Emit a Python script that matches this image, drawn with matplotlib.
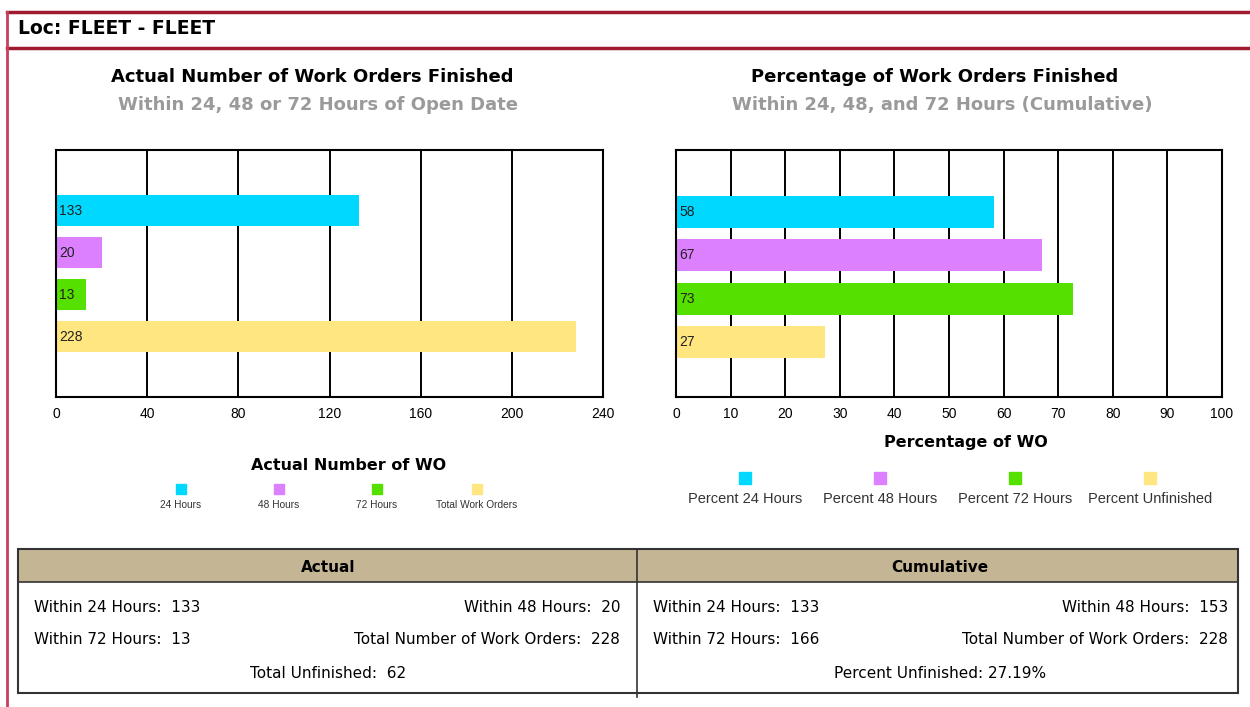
import matplotlib
matplotlib.use("Agg")
import matplotlib.pyplot as plt
from matplotlib.patches import Rectangle

# Data
location = "Loc: FLEET - FLEET"
actual_labels = ["24 Hours", "48 Hours", "72 Hours", "Total Work Orders"]
actual_values = [133, 20, 13, 228]
pct_labels = ["Percent 24 Hours", "Percent 48 Hours", "Percent 72 Hours", "Percent Unfinished"]
pct_values = [58.3, 67.1, 72.8, 27.2]
cumulative_values = [133, 153, 166, 228]
total_unfinished = 62
pct_unfinished = 27.19
colors = ["#00d8ff", "#dd80ff", "#55e000", "#ffe680"]

W, H = 1250, 707
fig = plt.figure(figsize=(W / 100, H / 100), dpi=100)
fig.patch.set_facecolor("white")


def rect(x0, y0, x1, y1):
    # pixel box -> figure fraction [left, bottom, width, height]
    return [x0 / W, 1 - y1 / H, (x1 - x0) / W, (y1 - y0) / H]


# background layer in pixel coordinates
bg = fig.add_axes([0, 0, 1, 1])
bg.set_xlim(0, W)
bg.set_ylim(H, 0)
bg.axis("off")

red = "#a01a30"
bg.plot([7, W], [12, 12], color=red, lw=2.5)
bg.plot([7, W], [48, 48], color=red, lw=2.5)
bg.plot([7, 7], [12, H], color="#c4405e", lw=2)
bg.text(18, 29, location, fontsize=13.5, fontweight="bold", va="center", ha="left",
        family="DejaVu Sans")

title_font = "DejaVu Sans"
bg.text(312, 77, "Actual Number of Work Orders Finished", fontsize=13,
        fontweight="bold", ha="center", va="center", family=title_font)
bg.text(318, 105, "Within 24, 48 or 72 Hours of Open Date", fontsize=13,
        fontweight="bold", ha="center", va="center", color="#9a9a9a", family=title_font)
bg.text(935, 77, "Percentage of Work Orders Finished", fontsize=13,
        fontweight="bold", ha="center", va="center", family=title_font)
bg.text(942, 105, "Within 24, 48, and 72 Hours (Cumulative)", fontsize=13,
        fontweight="bold", ha="center", va="center", color="#9a9a9a", family=title_font)


def bar_chart(ax, values, xmax, step, ylim):
    pos = list(range(len(values)))
    ax.barh(pos, values, height=0.74, color=colors, edgecolor="none", zorder=2)
    for p, v in zip(pos, values):
        ax.text(xmax * 0.006, p, f"{v:.0f}", va="center", ha="left", fontsize=10,
                color="#222222", family="Liberation Sans", zorder=3)
    ax.set_xlim(0, xmax)
    ax.set_ylim(*ylim)
    ax.set_xticks(range(0, xmax + 1, step))
    ax.set_yticks([])
    ax.xaxis.grid(True, color="black", lw=1.4)
    ax.set_axisbelow(True)
    ax.tick_params(axis="x", length=0, pad=7, labelsize=10)
    for lab in ax.get_xticklabels():
        lab.set_family("Liberation Sans")
    for s in ax.spines.values():
        s.set_color("black")
        s.set_linewidth(1.5)


ax1 = fig.add_axes(rect(56, 150, 603, 397))
bar_chart(ax1, actual_values, 240, 40, (4.43, -1.45))

ax2 = fig.add_axes(rect(676, 150, 1222, 397))
bar_chart(ax2, pct_values, 100, 10, (4.27, -1.43))

bg.text(349, 465, "Actual Number of WO", fontsize=11.5, fontweight="bold",
        ha="center", va="center", family=title_font)
bg.text(966, 443, "Percentage of WO", fontsize=11.5, fontweight="bold",
        ha="center", va="center", family=title_font)

# legends
for x, lab, c in zip([181, 279, 377, 477], actual_labels, colors):
    bg.add_patch(Rectangle((x - 5, 484), 10, 10, color=c))
    bg.text(x, 505, lab, fontsize=7.3, ha="center", va="center", color="#333333",
            family="Liberation Sans")
for x, lab, c in zip([745, 880, 1015, 1150], pct_labels, colors):
    bg.add_patch(Rectangle((x - 6, 472), 12, 12, color=c))
    bg.text(x, 499, lab, fontsize=10.5, ha="center", va="center", color="#333333",
            family="Liberation Sans")

# summary table
tan = "#c4b595"
bg.add_patch(Rectangle((18, 549), 1220, 33, facecolor=tan, edgecolor="none"))
bg.add_patch(Rectangle((18, 549), 1220, 144, facecolor="none", edgecolor="#333333", lw=1.5))
bg.plot([18, 1238], [582, 582], color="#333333", lw=1.2)
bg.plot([637, 637], [549, 697], color="#333333", lw=1.2)

tf = "DejaVu Sans"
ts = 11
bg.text(328, 567, "Actual", fontsize=ts, fontweight="bold", ha="center", va="center", family=tf)
bg.text(940, 567, "Cumulative", fontsize=ts, fontweight="bold", ha="center", va="center", family=tf)

rows = [608, 640, 673]
bg.text(34, rows[0], f"Within 24 Hours:  {actual_values[0]}", fontsize=ts, va="center", family=tf)
bg.text(620, rows[0], f"Within 48 Hours:  {actual_values[1]}", fontsize=ts, va="center", ha="right", family=tf)
bg.text(34, rows[1], f"Within 72 Hours:  {actual_values[2]}", fontsize=ts, va="center", family=tf)
bg.text(620, rows[1], f"Total Number of Work Orders:  {actual_values[3]}", fontsize=ts, va="center", ha="right", family=tf)
bg.text(328, rows[2], f"Total Unfinished:  {total_unfinished}", fontsize=ts, va="center", ha="center", family=tf)

bg.text(653, rows[0], f"Within 24 Hours:  {cumulative_values[0]}", fontsize=ts, va="center", family=tf)
bg.text(1228, rows[0], f"Within 48 Hours:  {cumulative_values[1]}", fontsize=ts, va="center", ha="right", family=tf)
bg.text(653, rows[1], f"Within 72 Hours:  {cumulative_values[2]}", fontsize=ts, va="center", family=tf)
bg.text(1228, rows[1], f"Total Number of Work Orders:  {cumulative_values[3]}", fontsize=ts, va="center", ha="right", family=tf)
bg.text(940, rows[2], f"Percent Unfinished: {pct_unfinished:.2f}%", fontsize=ts, va="center", ha="center", family=tf)

fig.savefig("out.png", dpi=100, facecolor="white")
